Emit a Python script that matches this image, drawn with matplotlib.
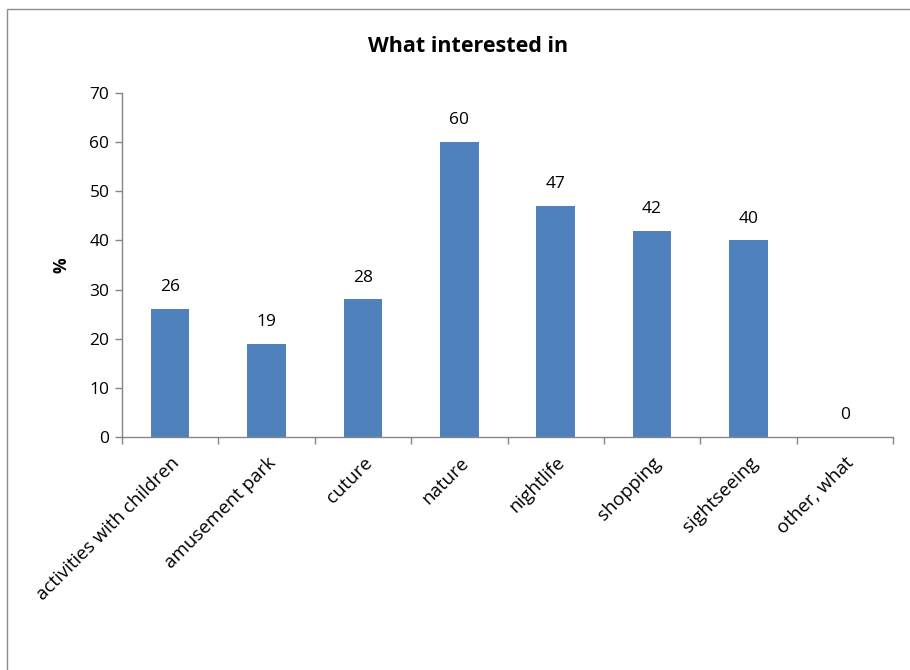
import matplotlib
matplotlib.use("Agg")
import matplotlib.pyplot as plt
from matplotlib.patches import Rectangle

categories = ["activities with children", "amusement park", "cuture", "nature",
              "nightlife", "shopping", "sightseeing", "other, what"]
values = [26, 19, 28, 60, 47, 42, 40, 0]
yticks = [0, 10, 20, 30, 40, 50, 60, 70]

plt.rcParams["font.family"] = ["Open Sans", "DejaVu Sans"]

W, H = 910, 670
fig = plt.figure(figsize=(W / 100, H / 100), dpi=100)

# chart-area frame
fig.patches.append(Rectangle((7 / W, -0.1), 1.1, (H - 9) / H + 0.1,
                             transform=fig.transFigure, fill=False,
                             edgecolor="#8c8c8c", linewidth=1.0))

ax = fig.add_axes([122 / W, 1 - 437 / H, (893 - 122) / W, (437 - 93) / H])
x = list(range(len(categories)))
ax.bar(x, values, width=0.4, color="#4F81BD", zorder=2)

for xi, v in zip(x, values):
    ax.annotate(str(v), (xi, v), xytext=(0, 10), textcoords="offset points",
                ha="center", va="bottom", fontsize=12.5, color="black")

ax.set_xlim(-0.5, len(categories) - 0.5)
ax.set_ylim(0, 70)
ax.set_yticks(yticks)
ax.set_yticklabels([str(t) for t in yticks], fontsize=12.5)

ax.set_xticks(x)
ax.set_xticklabels(categories, rotation=45, ha="right", rotation_mode="anchor",
                   fontsize=13.5)
ax.tick_params(axis="x", length=0, pad=12)
ax.set_xticks([i - 0.5 for i in range(len(categories) + 1)], minor=True)
ax.tick_params(axis="x", which="minor", length=5, color="#868686", width=1)
ax.tick_params(axis="y", length=5, color="#868686", width=1, pad=4)

for s in ["top", "right"]:
    ax.spines[s].set_visible(False)
for s in ["left", "bottom"]:
    ax.spines[s].set_color("#868686")
    ax.spines[s].set_linewidth(1)

ax.set_ylabel("%", fontsize=12.5, fontweight="bold", labelpad=14)
fig.text(468 / W, 1 - 46 / H, "What interested in", ha="center", va="center",
         fontsize=15.5, fontweight="bold")

fig.savefig("out.png", dpi=100)
